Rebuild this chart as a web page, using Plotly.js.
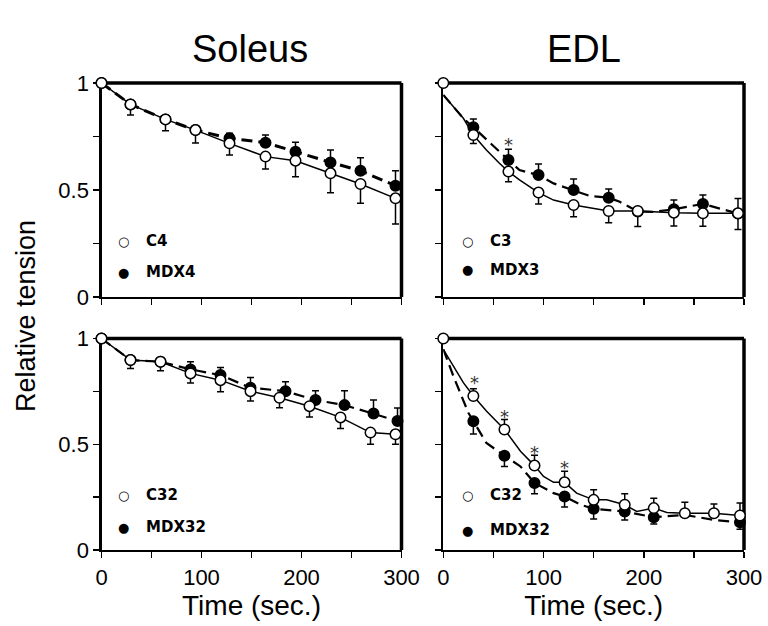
<!DOCTYPE html>
<html><head><meta charset="utf-8">
<script src="https://cdn.plot.ly/plotly-3.0.1.min.js"></script>
<style>html,body{margin:0;padding:0;background:#fff}#chart{width:768px;height:626px}</style>
</head><body><div id="chart"></div>
<script>
// ---------- data ----------
// Soleus, 4 weeks
const tSolC4 = [0, 29, 64, 94, 128, 164, 194, 229, 259, 294];
const solC4 = [1.0, 0.90, 0.83, 0.78, 0.718, 0.656, 0.637, 0.578, 0.528, 0.461];
const solC4Err = [0, 0.05, 0.053, 0.06, 0.054, 0.058, 0.075, 0.091, 0.09, 0.12];
const tSolM4 = [0, 29, 64, 94, 128, 164, 194, 229, 259, 294];
const solM4 = [1.0, 0.90, 0.83, 0.78, 0.742, 0.721, 0.679, 0.629, 0.590, 0.52];
const solM4Err = [0, 0, 0, 0, 0.023, 0.036, 0.044, 0.058, 0.061, 0.07];

// EDL, 3 weeks
const tEdlC3 = [0, 30, 65, 95, 130, 165, 194, 230, 259, 294];
const edlC3 = [1.0, 0.757, 0.586, 0.488, 0.43, 0.402, 0.402, 0.394, 0.391, 0.391];
const edlC3Err = [0, 0.04, 0.047, 0.053, 0.055, 0.055, 0.073, 0.062, 0.06, 0.075];
const tEdlM3 = [30, 65, 95, 130, 165, 194, 230, 259, 294];
const edlM3 = [0.793, 0.64, 0.57, 0.5, 0.464, 0.40, 0.41, 0.435, 0.39];
const edlM3Err = [0.039, 0.05, 0.051, 0.051, 0.041, 0, 0.043, 0.042, 0.07];
const tTraceC3 = [0, 10, 20, 30, 43, 56, 65, 76, 95, 110, 130, 165, 194, 230, 259, 294];
const traceC3 = [0.944, 0.889, 0.835, 0.757, 0.687, 0.625, 0.586, 0.547, 0.488, 0.453, 0.43, 0.402, 0.402, 0.394, 0.391, 0.391];
const tTraceM3 = [0, 10, 20, 30, 45, 65, 76, 95, 110, 130, 146, 165, 176, 194, 209, 230, 259, 294];
const traceM3 = [0.944, 0.889, 0.835, 0.793, 0.726, 0.64, 0.593, 0.57, 0.531, 0.5, 0.472, 0.464, 0.445, 0.40, 0.398, 0.41, 0.435, 0.39];

// Soleus, 32 weeks
const tSolC32 = [0, 29, 59, 89, 119, 149, 178, 208, 239, 269, 294];
const solC32 = [1.0, 0.898, 0.89, 0.835, 0.803, 0.751, 0.72, 0.68, 0.627, 0.555, 0.547];
const solC32Err = [0, 0.04, 0.042, 0.045, 0.055, 0.047, 0.048, 0.051, 0.053, 0.055, 0.047];
const tSolM32 = [0, 29, 59, 89, 119, 149, 184, 214, 243, 272, 296];
const solM32 = [1.0, 0.898, 0.89, 0.854, 0.827, 0.767, 0.751, 0.709, 0.685, 0.645, 0.61];
const solM32Err = [0, 0, 0, 0.036, 0.036, 0.049, 0.044, 0.044, 0.068, 0.064, 0.061];

// EDL, 32 weeks
const tEdlC32 = [0, 30, 61, 91, 121, 150, 181, 210, 241, 270, 296];
const edlC32 = [1.0, 0.728, 0.57, 0.399, 0.32, 0.237, 0.214, 0.198, 0.174, 0.174, 0.163];
const edlC32Err = [0, 0.035, 0.047, 0.049, 0.052, 0.048, 0.052, 0.047, 0.052, 0.044, 0.059];
const tEdlM32 = [30, 61, 91, 121, 150, 181, 210, 296];
const edlM32 = [0.609, 0.446, 0.317, 0.253, 0.195, 0.182, 0.155, 0.131];
const edlM32Err = [0.06, 0.051, 0.051, 0.05, 0.048, 0.04, 0.032, 0.033];
const tTraceC32 = [0, 10, 20, 30, 43, 61, 77, 91, 100, 110, 121, 133, 150, 163, 181, 193, 210, 223, 241, 270, 296];
const traceC32 = [0.949, 0.87, 0.791, 0.728, 0.657, 0.57, 0.467, 0.399, 0.348, 0.32, 0.32, 0.269, 0.237, 0.237, 0.214, 0.182, 0.198, 0.177, 0.174, 0.174, 0.163];
const tTraceM32 = [0, 10, 25, 30, 43, 61, 77, 91, 110, 121, 137, 150, 181, 210, 241, 270, 296];
const traceM32 = [0.949, 0.823, 0.649, 0.609, 0.506, 0.446, 0.395, 0.317, 0.269, 0.253, 0.214, 0.195, 0.182, 0.155, 0.166, 0.142, 0.131];

// significance marks
const starT3 = [65];
const starV3 = [0.737];
const starT32 = [31, 61, 91, 121];
const starV32 = [0.815, 0.656, 0.487, 0.414];

// labels
const colTitles = ['Soleus', 'EDL'];
const legendNames = [['C4', 'MDX4'], ['C3', 'MDX3'], ['C32', 'MDX32'], ['C32', 'MDX32']];
const xTickVals = [0, 50, 100, 150, 200, 250, 300];
const xTickText = ['0', '', '100', '', '200', '', '300'];
const yTickVals = [0, 0.25, 0.5, 0.75, 1];
const yTickText = ['0', '', '0.5', '', '1'];

// ---------- styling ----------
const FONT = "'Liberation Sans', Arial, sans-serif";
const zeros = n => new Array(n).fill(0);

function lineTrace(x, y, ax, dashed, w) {
  return {x, y, xaxis: 'x' + ax, yaxis: 'y' + ax, type: 'scatter', mode: 'lines',
    line: {color: '#000', width: w, dash: dashed ? '11px,6px' : 'solid'},
    showlegend: false, hoverinfo: 'skip', cliponaxis: false};
}
function markTrace(x, y, err, ax, filled, up) {
  return {x, y, xaxis: 'x' + ax, yaxis: 'y' + ax, type: 'scatter', mode: 'markers',
    marker: {size: 10.5, color: filled ? '#000' : '#fff', line: {color: '#000', width: 1.5}},
    error_y: {type: 'data', symmetric: false,
      array: up ? err : zeros(err.length), arrayminus: up ? zeros(err.length) : err,
      color: '#000', thickness: 1.5, width: 3.5},
    showlegend: false, cliponaxis: false};
}

const data = [
  // panel 1
  lineTrace(tSolC4, solC4, '', false, 1.5),
  lineTrace(tSolM4, solM4, '', true, 3),
  markTrace(tSolM4, solM4, solM4Err, '', true, true),
  markTrace(tSolC4, solC4, solC4Err, '', false, false),
  // panel 2
  lineTrace(tTraceC3, traceC3, '2', false, 1.5),
  lineTrace(tTraceM3, traceM3, '2', true, 2.2),
  markTrace(tEdlM3, edlM3, edlM3Err, '2', true, true),
  markTrace(tEdlC3, edlC3, edlC3Err, '2', false, false),
  // panel 3
  lineTrace(tSolC32, solC32, '3', false, 1.5),
  lineTrace(tSolM32, solM32, '3', true, 2.2),
  markTrace(tSolM32, solM32, solM32Err, '3', true, true),
  markTrace(tSolC32, solC32, solC32Err, '3', false, false),
  // panel 4
  lineTrace(tTraceC32, traceC32, '4', false, 1.5),
  lineTrace(tTraceM32, traceM32, '4', true, 2.2),
  markTrace(tEdlM32, edlM32, edlM32Err, '4', true, false),
  markTrace(tEdlC32, edlC32, edlC32Err, '4', false, true)
];

const W = 768, H = 626;
const xDomL = [101.5 / W, 401.5 / W], xDomR = [443.3 / W, 744 / W];
const yDomT = [1 - 297 / H, 1 - 83 / H], yDomB = [1 - 550 / H, 1 - 338.5 / H];

function xa(dom, anchor, labels) {
  return {domain: dom, anchor, range: [0, 300], tickvals: xTickVals,
    ticktext: labels ? xTickText : xTickVals.map(() => ''),
    ticks: 'outside', ticklen: 6, tickwidth: 1.5, tickcolor: '#000',
    showline: true, linewidth: 2.2, linecolor: '#000', showgrid: false, zeroline: false,
    layer: 'below traces', fixedrange: true,
    tickfont: {family: FONT, size: 22, color: '#000'},
    title: labels ? {text: 'Time (sec.)', font: {family: FONT, size: 28, color: '#000'}, standoff: 7} : {text: ''}};
}
function ya(dom, anchor, labels) {
  return {domain: dom, anchor, range: [0, 1], tickvals: yTickVals,
    ticktext: labels ? yTickText : yTickVals.map(() => ''),
    ticks: 'outside', ticklen: 6, tickwidth: 1.5, tickcolor: '#000',
    showline: true, linewidth: 2.2, linecolor: '#000', showgrid: false, zeroline: false,
    layer: 'below traces', fixedrange: true,
    tickfont: {family: FONT, size: 22, color: '#000'}};
}

const shapes = [];
['x', 'x2', 'x3', 'x4'].forEach((x, i) => {
  const y = 'y' + (i === 0 ? '' : i + 1);
  shapes.push({type: 'line', xref: x + ' domain', yref: y + ' domain', x0: 0, x1: 1, y0: 1, y1: 1,
    line: {color: '#000', width: 3.5}, layer: 'below'});
  shapes.push({type: 'line', xref: x + ' domain', yref: y + ' domain', x0: 1, x1: 1, y0: 0, y1: 1,
    line: {color: '#000', width: 3.5}, layer: 'below'});
});

const annotations = [];
annotations.push({text: colTitles[0], xref: 'paper', yref: 'paper', x: 250 / W, y: 1 - 49 / H,
  showarrow: false, xanchor: 'center', yanchor: 'middle', font: {family: FONT, size: 38, color: '#000'}});
annotations.push({text: colTitles[1], xref: 'paper', yref: 'paper', x: 584 / W, y: 1 - 49 / H,
  showarrow: false, xanchor: 'center', yanchor: 'middle', font: {family: FONT, size: 38, color: '#000'}});
annotations.push({text: 'Relative tension', xref: 'paper', yref: 'paper', x: 26 / W, y: 1 - 316 / H,
  textangle: -90, showarrow: false, xanchor: 'center', yanchor: 'middle', font: {family: FONT, size: 27, color: '#000'}});

// legends (symbol + label) in each panel
const legPos = [[123, 241, 272], [467, 241, 270], [123, 495, 527], [467, 495, 530]];
legPos.forEach((p, i) => {
  const rows = [[legendNames[i][0], '○', p[1]], [legendNames[i][1], '●', p[2]]];
  rows.forEach(r => {
    annotations.push({text: r[1], xref: 'paper', yref: 'paper', x: p[0] / W, y: 1 - r[2] / H,
      showarrow: false, xanchor: 'center', yanchor: 'middle', font: {family: 'DejaVu Sans', size: 13, color: '#000'}});
    annotations.push({text: '<b>' + r[0] + '</b>', xref: 'paper', yref: 'paper', x: (p[0] + 21) / W, y: 1 - r[2] / H,
      showarrow: false, xanchor: 'left', yanchor: 'middle', font: {family: 'DejaVu Sans', size: 15, color: '#000'}});
  });
});

// asterisks
starT3.forEach((t, i) => annotations.push({text: '*', xref: 'x2', yref: 'y2', x: t, y: starV3[i], yshift: -5,
  showarrow: false, font: {family: 'DejaVu Sans', size: 18, color: '#333'}}));
starT32.forEach((t, i) => annotations.push({text: '*', xref: 'x4', yref: 'y4', x: t, y: starV32[i], yshift: -5,
  showarrow: false, font: {family: 'DejaVu Sans', size: 18, color: '#333'}}));

const layout = {
  width: W, height: H, margin: {l: 0, r: 0, t: 0, b: 0},
  paper_bgcolor: '#fff', plot_bgcolor: 'rgba(0,0,0,0)', showlegend: false,
  font: {family: FONT, color: '#000'},
  xaxis: xa(xDomL, 'y', false), yaxis: ya(yDomT, 'x', true),
  xaxis2: xa(xDomR, 'y2', false), yaxis2: ya(yDomT, 'x2', false),
  xaxis3: xa(xDomL, 'y3', true), yaxis3: ya(yDomB, 'x3', true),
  xaxis4: xa(xDomR, 'y4', true), yaxis4: ya(yDomB, 'x4', false),
  shapes, annotations
};

Plotly.newPlot('chart', data, layout, {staticPlot: true, displayModeBar: false});
</script></body></html>
